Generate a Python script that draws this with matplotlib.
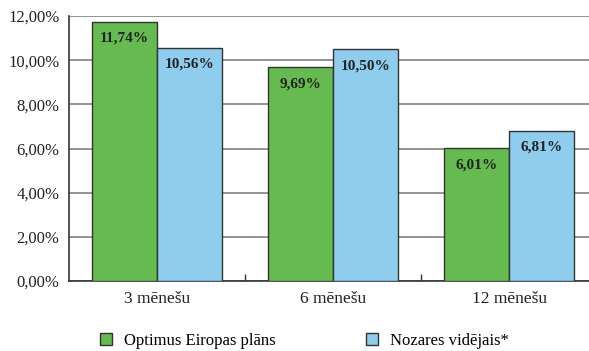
import matplotlib
matplotlib.use("Agg")
import matplotlib.pyplot as plt
import numpy as np
from matplotlib.patches import Patch

categories = ["3 mēnešu", "6 mēnešu", "12 mēnešu"]
optimus = [11.74, 9.69, 6.01]
nozares = [10.56, 10.50, 6.81]
series_names = ["Optimus Eiropas plāns", "Nozares vidējais*"]
yticks = [0, 2, 4, 6, 8, 10, 12]

plt.rcParams['font.family'] = ['Liberation Serif', 'DejaVu Serif']

green = "#66BB50"
blue = "#8FCDEE"
edge = "#333333"

fig = plt.figure(figsize=(5.89, 3.51), dpi=100)
ax = fig.add_axes([69/589, 70/351, 528/589, 265/351])

x = np.arange(len(categories))
w = 0.367
b1 = ax.bar(x - w/2, optimus, w, color=green, edgecolor=edge, linewidth=1, zorder=3)
b2 = ax.bar(x + w/2, nozares, w, color=blue, edgecolor=edge, linewidth=1, zorder=3)

def fmt(v):
    return f"{v:.2f}".replace(".", ",") + "%"

for bars, vals in ((b1, optimus), (b2, nozares)):
    for r, v in zip(bars, vals):
        ax.annotate(fmt(v), (r.get_x() + r.get_width()/2, v), xytext=(0, -12),
                    textcoords="offset points", ha="center", va="center",
                    fontsize=11, fontweight="bold", color="#222222", zorder=4)

ax.set_xlim(-0.5, 2.5)
ax.set_ylim(0, 12)
ax.set_yticks(yticks)
ax.set_yticklabels([fmt(v) for v in yticks], fontsize=12, color="#222222")
ax.tick_params(axis="y", length=0, pad=7)
ax.yaxis.grid(True, color="#808080", linewidth=1.2, zorder=0)
ax.set_axisbelow(True)

ax.set_xticks(x)
ax.set_xticklabels(categories, fontsize=12.5, color="#222222")
ax.tick_params(axis="x", length=0, pad=7)
ax.set_xticks([0.5, 1.5], minor=True)
ax.tick_params(axis="x", which="minor", direction="in", length=5, width=1, color=edge)

for s in ("top", "right"):
    ax.spines[s].set_visible(False)
for s in ("left", "bottom"):
    ax.spines[s].set_color(edge)
    ax.spines[s].set_linewidth(1.2)

handles = [Patch(facecolor=green, edgecolor=edge, linewidth=1),
           Patch(facecolor=blue, edgecolor=edge, linewidth=1)]
fig.legend(handles, series_names, loc="center left",
           bbox_to_anchor=(100/589, 10/351), ncol=2, frameon=False,
           fontsize=12, handlelength=0.72, handleheight=0.72,
           handletextpad=0.72, columnspacing=5.4, borderpad=0, borderaxespad=0)

fig.savefig("out.png", dpi=100)
